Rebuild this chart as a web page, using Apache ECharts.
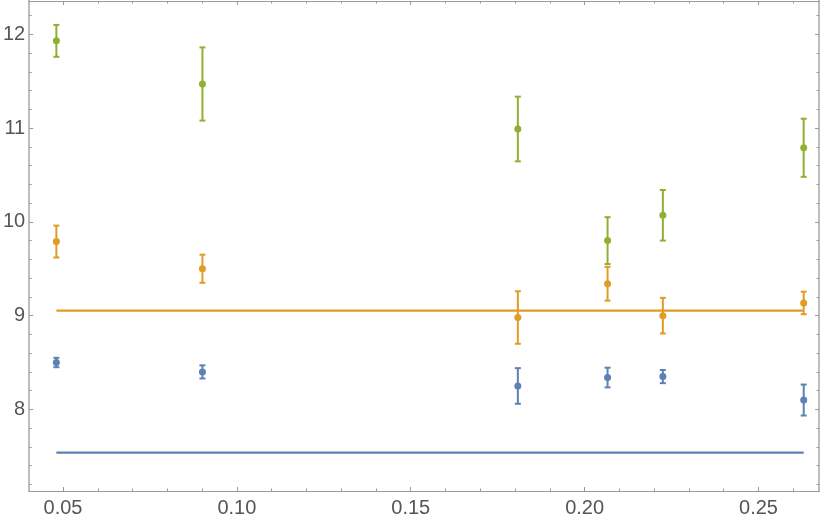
<!DOCTYPE html>
<html>
<head>
<meta charset="utf-8">
<script src="https://cdn.jsdelivr.net/npm/echarts@6/dist/echarts.min.js"></script>
<style>html,body{margin:0;padding:0;background:#fff}#c{width:822px;height:520px}</style>
</head>
<body>
<div id="c"></div>
<script>
// Data
const xValues = [0.0481, 0.0901, 0.1808, 0.2066, 0.2225, 0.2630];
const blueY = [8.50, 8.40, 8.25, 8.34, 8.35, 8.10];
const blueErr = [0.05, 0.07, 0.19, 0.105, 0.07, 0.165];
const orangeY = [9.79, 9.50, 8.98, 9.34, 9.00, 9.135];
const orangeErr = [0.17, 0.15, 0.28, 0.18, 0.19, 0.12];
const greenY = [11.93, 11.47, 10.99, 9.80, 10.07, 10.79];
const greenErr = [0.17, 0.39, 0.345, 0.25, 0.27, 0.31];
const blueFit = 7.54;
const orangeFit = 9.053;
const xMajorTicks = [0.05, 0.10, 0.15, 0.20, 0.25];
const yMajorTicks = [8, 9, 10, 11, 12];

const X_MIN = 0.0403, X_MAX = 0.2674, Y_MIN = 7.13, Y_MAX = 12.355;
const xMinor = []; for (let i = 5; i <= 26; i++) { const v = +(i / 100).toFixed(2); if (xMajorTicks.indexOf(v) < 0) xMinor.push(v); }
const yMinor = []; for (let i = 36; i <= 61; i++) { const v = +(i / 5).toFixed(1); if (yMajorTicks.indexOf(v) < 0) yMinor.push(v); }

const FRAME_H = '#9a9a9a';
const FRAME_V = '#bdbdbd';
const LABEL = '#555555';
const FONT = 'Liberation Sans';

function xAxisDef(pos, ticks, len, labels) {
  return {
    type: 'value', position: pos, min: X_MIN, max: X_MAX,
    splitLine: { show: false },
    axisLine: { show: true, onZero: false, lineStyle: { color: FRAME_H, width: 1.2 } },
    axisTick: { show: true, inside: true, length: len, customValues: ticks, lineStyle: { color: FRAME_H, width: 1 } },
    axisLabel: labels ? { show: true, customValues: ticks, margin: 7, color: LABEL, fontSize: 20, fontFamily: FONT, formatter: v => v.toFixed(2) } : { show: false }
  };
}
function yAxisDef(pos, ticks, len, labels) {
  return {
    type: 'value', position: pos, min: Y_MIN, max: Y_MAX,
    splitLine: { show: false },
    axisLine: { show: true, onZero: false, lineStyle: { color: FRAME_V, width: 2 } },
    axisTick: { show: true, inside: true, length: len, customValues: ticks, lineStyle: { color: FRAME_H, width: 1 } },
    axisLabel: labels ? { show: true, customValues: ticks, margin: 4, color: LABEL, fontSize: 20, fontFamily: FONT, formatter: v => String(v) } : { show: false }
  };
}

function errSeries(ys, errs, color) {
  return {
    type: 'custom', xAxisIndex: 0, yAxisIndex: 0, z: 5,
    data: xValues.map((x, i) => [x, ys[i], errs[i]]),
    encode: { x: 0, y: 1 },
    renderItem: function (params, api) {
      const x = api.value(0), y = api.value(1), e = api.value(2);
      const p = api.coord([x, y]), t = api.coord([x, y + e]), b = api.coord([x, y - e]);
      const cw = 3;
      const st = { stroke: color, lineWidth: 2 };
      return {
        type: 'group', children: [
          { type: 'line', shape: { x1: p[0], y1: t[1], x2: p[0], y2: b[1] }, style: st },
          { type: 'line', shape: { x1: p[0] - cw, y1: t[1], x2: p[0] + cw, y2: t[1] }, style: st },
          { type: 'line', shape: { x1: p[0] - cw, y1: b[1], x2: p[0] + cw, y2: b[1] }, style: st },
          { type: 'circle', shape: { cx: p[0], cy: p[1], r: 3.5 }, style: { fill: color } }
        ]
      };
    }
  };
}
function fitSeries(v, color) {
  return {
    type: 'line', xAxisIndex: 0, yAxisIndex: 0, symbol: 'none', z: 3,
    data: [[xValues[0], v], [xValues[xValues.length - 1], v]],
    lineStyle: { color: color, width: 2.2 }, silent: true
  };
}

const BLUE = '#5E81B5', ORANGE = '#E19C24', GREEN = '#8FB032';

const chart = echarts.init(document.getElementById('c'), null, { renderer: 'canvas' });
chart.setOption({
  animation: false,
  backgroundColor: '#ffffff',
  grid: { left: 26, right: 3, top: 1, bottom: 29, containLabel: false },
  xAxis: [
    xAxisDef('bottom', xMajorTicks, 4, true),
    xAxisDef('bottom', xMinor, 2.5, false),
    xAxisDef('top', xMajorTicks, 4, false),
    xAxisDef('top', xMinor, 2.5, false)
  ],
  yAxis: [
    yAxisDef('left', yMajorTicks, 4, true),
    yAxisDef('left', yMinor, 2.5, false),
    yAxisDef('right', yMajorTicks, 4, false),
    yAxisDef('right', yMinor, 2.5, false)
  ],
  series: [
    fitSeries(blueFit, BLUE),
    fitSeries(orangeFit, ORANGE),
    errSeries(blueY, blueErr, BLUE),
    errSeries(orangeY, orangeErr, ORANGE),
    errSeries(greenY, greenErr, GREEN)
  ]
});
</script>
</body>
</html>
